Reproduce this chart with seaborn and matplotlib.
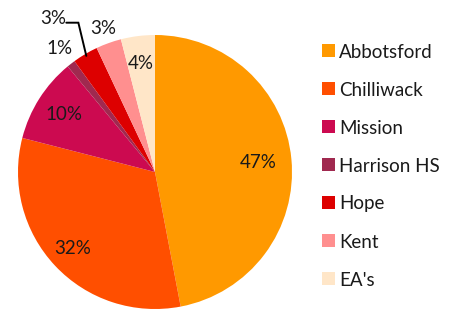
import numpy as np
import matplotlib
matplotlib.use('Agg')
import matplotlib.pyplot as plt
import seaborn as sns

regions = ['Abbotsford', 'Chilliwack', 'Mission', 'Harrison HS', 'Hope', 'Kent', "EA's"]
shares = [47, 32, 10, 1, 3, 3, 4]
colors = ['#FF9900', '#FF4F00', '#CC0A50', '#A0294F', '#DD0000', '#FF8F8F', '#FFE6C8']
# radius of each percent label, in pie radii
label_r = [0.76, 0.82, 0.79, 1.14, 1.34, 1.11, 0.80]

sns.set_theme(style='white')
plt.rcParams['font.family'] = ['Lato', 'DejaVu Sans']
FS = 13.5

fig = plt.figure(figsize=(4.51, 3.11), dpi=100)
ax = fig.add_axes([18 / 451, 2 / 311, 274 / 451, 274 / 311])

wedges, _ = ax.pie(shares, colors=colors, startangle=90, counterclock=False,
                   wedgeprops=dict(linewidth=0))
ax.set_xlim(-1, 1)
ax.set_ylim(-1, 1)
ax.set_aspect('equal')
ax.axis('off')

for w, val, r, name in zip(wedges, shares, label_r, regions):
    mid = np.deg2rad((w.theta1 + w.theta2) / 2)
    x, y = r * np.cos(mid), r * np.sin(mid)
    if name == 'Hope':
        # leader line from the wedge edge up and left to the label
        ex, ey = 0.985 * np.cos(mid), 0.985 * np.sin(mid)
        bx, by = ex - 0.058, ey + 0.242
        ax.plot([ex, bx, bx - 0.088], [ey, by, by],
                color='black', lw=1.4, clip_on=False, solid_joinstyle='miter')
        x, y = bx - 0.183, by + 0.031
    ax.text(x, y, f'{val}%', ha='center', va='center', fontsize=FS,
            color='#1a1a1a')

fig.legend(wedges, regions, loc='center left', bbox_to_anchor=(305 / 451, 1 - 166 / 311),
           frameon=False, fontsize=FS, labelspacing=1.12, handlelength=0.69,
           handleheight=0.69, handletextpad=0.24, labelcolor='#1a1a1a')

fig.savefig('out.png', dpi=100)
